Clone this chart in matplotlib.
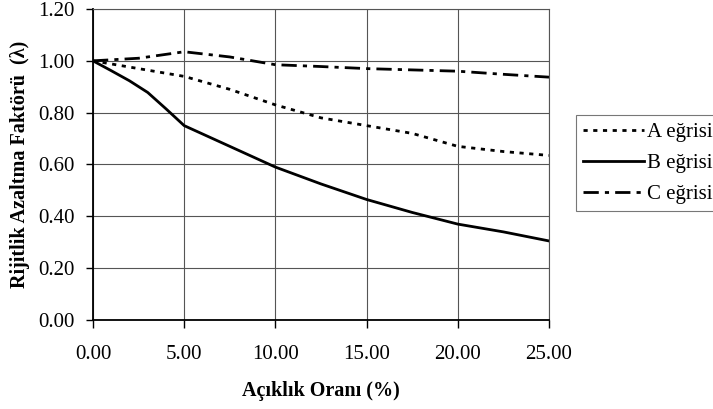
import numpy as np
import matplotlib.pyplot as plt

plt.rcParams['font.family'] = ['Liberation Serif', 'DejaVu Serif']

# curve values
x_a = [0, 2.5, 5, 7.5, 10, 12.5, 15, 17.5, 20, 22.5, 25]
a_vals = [1.00, 0.97, 0.94, 0.89, 0.83, 0.78, 0.75, 0.72, 0.67, 0.65, 0.635]

x_b = [0, 1, 2, 3, 4, 5, 7.5, 10, 12.5, 15, 17.5, 20, 22.5, 25]
b_vals = [1.00, 0.962, 0.923, 0.878, 0.815, 0.75, 0.67, 0.59, 0.525, 0.465, 0.415, 0.37, 0.34, 0.305]

x_c = [0, 2.5, 5, 7.5, 10, 12.5, 15, 17.5, 20, 22.5, 25]
c_vals = [1.00, 1.01, 1.035, 1.015, 0.985, 0.978, 0.97, 0.965, 0.96, 0.948, 0.937]

x_ticks = [0, 5, 10, 15, 20, 25]
y_ticks = [0.0, 0.2, 0.4, 0.6, 0.8, 1.0, 1.2]

fig = plt.figure(figsize=(7.13, 4.09), dpi=100)
ax = fig.add_axes([0.1304, 0.2176, 0.6396, 0.7604])

la, = ax.plot(x_a, a_vals, color='black', lw=2.0, linestyle=(0, (1.5, 2.0)), label='A eğrisi')
lb, = ax.plot(x_b, b_vals, color='black', lw=2.0, linestyle='-', label='B eğrisi')
lc, = ax.plot(x_c, c_vals, color='black', lw=2.0, linestyle=(0, (5.5, 2.2, 1.5, 2.2)), label='C eğrisi')

ax.set_xlim(0, 25)
ax.set_ylim(0, 1.2)
ax.set_xticks(x_ticks)
ax.set_yticks(y_ticks)
ax.set_xticklabels([f'{v:.2f}' for v in x_ticks], fontsize=15)
ax.set_yticklabels([f'{v:.2f}' for v in y_ticks], fontsize=15)
ax.tick_params(axis='x', direction='out', length=6, width=1, pad=12)
ax.tick_params(axis='y', direction='out', length=5, width=1, pad=8)
ax.grid(True, color='#555555', lw=0.8)
ax.set_axisbelow(True)
for s in ax.spines.values():
    s.set_color('#555555')
    s.set_linewidth(0.8)
ax.spines['left'].set_color('black')
ax.spines['bottom'].set_color('black')
ax.spines['left'].set_linewidth(1.3)
ax.spines['bottom'].set_linewidth(1.3)

ax.set_xlabel('Açıklık Oranı (%)', fontsize=14.5, fontweight='bold', labelpad=12)
ax.set_ylabel('Rijitlik Azaltma Faktörü  (λ)', fontsize=14.5, fontweight='bold', labelpad=6)

leg = fig.legend(handles=[la, lb, lc], loc='upper left',
                 bbox_to_anchor=(576 / 713, 1 - 115 / 409), fontsize=15,
                 handlelength=2.9, handletextpad=0.15, frameon=True,
                 fancybox=False, borderpad=0.35, borderaxespad=0,
                 labelspacing=0.55)
leg.get_frame().set_edgecolor('#555555')
leg.get_frame().set_linewidth(0.8)

fig.savefig('out.png', dpi=100)
